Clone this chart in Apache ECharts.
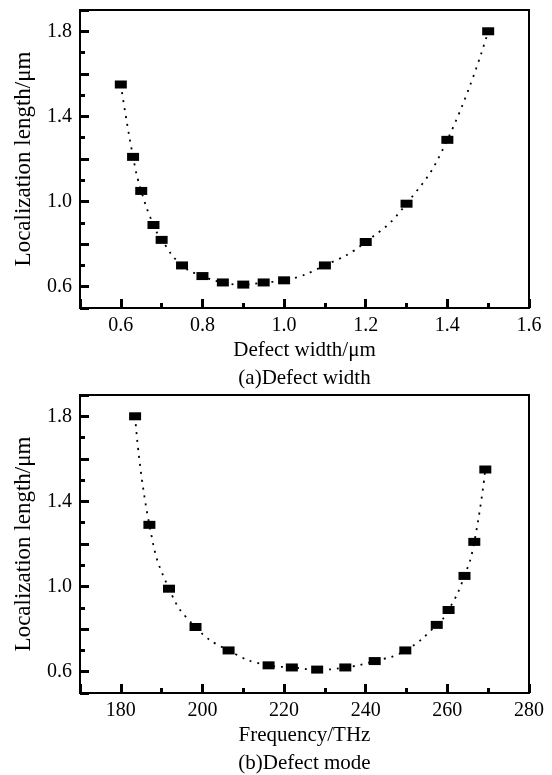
<!DOCTYPE html>
<html><head><meta charset="utf-8">
<script src="https://cdn.jsdelivr.net/npm/echarts@6/dist/echarts.min.js"></script>
<style>html,body{margin:0;padding:0;background:#fff}#c{width:552px;height:775px}</style>
</head><body><div id="c"></div>
<script>
// (a) Localization length vs defect width
const widthA  = [0.60, 0.63, 0.65, 0.68, 0.70, 0.75, 0.80, 0.85, 0.90, 0.95, 1.00, 1.10, 1.20, 1.30, 1.40, 1.50];
const lengthA = [1.55, 1.21, 1.05, 0.89, 0.82, 0.70, 0.65, 0.62, 0.61, 0.62, 0.63, 0.70, 0.81, 0.99, 1.29, 1.80];
// (b) Localization length vs defect-mode frequency
const freqB   = [183.5, 187.0, 191.8, 198.3, 206.4, 216.2, 221.9, 228.1, 235.0, 242.2, 249.7, 257.4, 260.3, 264.2, 266.6, 269.3];
const lengthB = [1.80, 1.29, 0.99, 0.81, 0.70, 0.63, 0.62, 0.61, 0.62, 0.65, 0.70, 0.82, 0.89, 1.05, 1.21, 1.55];
// tick labels
const xLabelsA = ['0.6', '0.8', '1.0', '1.2', '1.4', '1.6'];
const xLabelsB = ['180', '200', '220', '240', '260', '280'];
const yLabels  = ['0.6', '1.0', '1.4', '1.8'];

const FONT = '"Liberation Serif", "Times New Roman", serif';
const BLACK = '#000';

function labelFmt(list, dec) {
  return function (v) {
    const s = dec > 0 ? Number(v).toFixed(dec) : String(Math.round(v));
    return list.indexOf(s) >= 0 ? s : '';
  };
}

function axisCommon(gi, min, max, step, name, labels, dec, nameGap, nameSize) {
  return {
    type: 'value', gridIndex: gi, min: min, max: max,
    minInterval: step, maxInterval: step,
    name: name, nameLocation: 'middle', nameGap: nameGap,
    nameTextStyle: { fontFamily: FONT, fontSize: nameSize, color: BLACK },
    axisLine: { show: true, onZero: false, lineStyle: { color: BLACK, width: 2 } },
    axisTick: { show: true, inside: true, length: 9, lineStyle: { color: BLACK, width: 3 } },
    minorTick: { show: true, splitNumber: 2, length: 5, lineStyle: { color: BLACK, width: 3 } },
    axisLabel: { formatter: labelFmt(labels, dec), fontFamily: FONT, fontSize: 20, color: BLACK, margin: 8 },
    splitLine: { show: false }, minorSplitLine: { show: false }
  };
}

function lineSeries(idx, xs, ys) {
  return {
    type: 'line', xAxisIndex: idx, yAxisIndex: idx,
    data: xs.map(function (x, i) { return [x, ys[i]]; }),
    symbol: 'rect', symbolSize: [12, 8], showSymbol: true,
    smooth: 0.5,
    itemStyle: { color: BLACK },
    lineStyle: { color: BLACK, width: 1.8, type: [2, 6] },
    z: 3
  };
}

const chart = echarts.init(document.getElementById('c'), null, { renderer: 'canvas' });
chart.setOption({
  animation: false,
  backgroundColor: '#fff',
  grid: [
    { left: 80, top: 10, width: 449, height: 298, show: true, borderColor: BLACK, borderWidth: 2, containLabel: false },
    { left: 80, top: 395, width: 449, height: 298, show: true, borderColor: BLACK, borderWidth: 2, containLabel: false }
  ],
  xAxis: [
    axisCommon(0, 0.5, 1.6, 0.2, 'Defect width/μm', xLabelsA, 1, 32, 21),
    axisCommon(1, 170, 280, 20, 'Frequency/THz', xLabelsB, 0, 32, 21)
  ],
  yAxis: [
    axisCommon(0, 0.5, 1.9, 0.2, 'Localization length/μm', yLabels, 1, 45, 23),
    axisCommon(1, 0.5, 1.9, 0.2, 'Localization length/μm', yLabels, 1, 45, 23)
  ],
  series: [
    lineSeries(0, widthA, lengthA),
    lineSeries(1, freqB, lengthB)
  ],
  graphic: [
    { type: 'text', x: 304.5, y: 378, style: { text: '(a)Defect width', textAlign: 'center', textVerticalAlign: 'middle', font: '21px ' + FONT, fill: BLACK } },
    { type: 'text', x: 304.5, y: 763, style: { text: '(b)Defect mode', textAlign: 'center', textVerticalAlign: 'middle', font: '21px ' + FONT, fill: BLACK } }
  ]
});
</script>
</body></html>
